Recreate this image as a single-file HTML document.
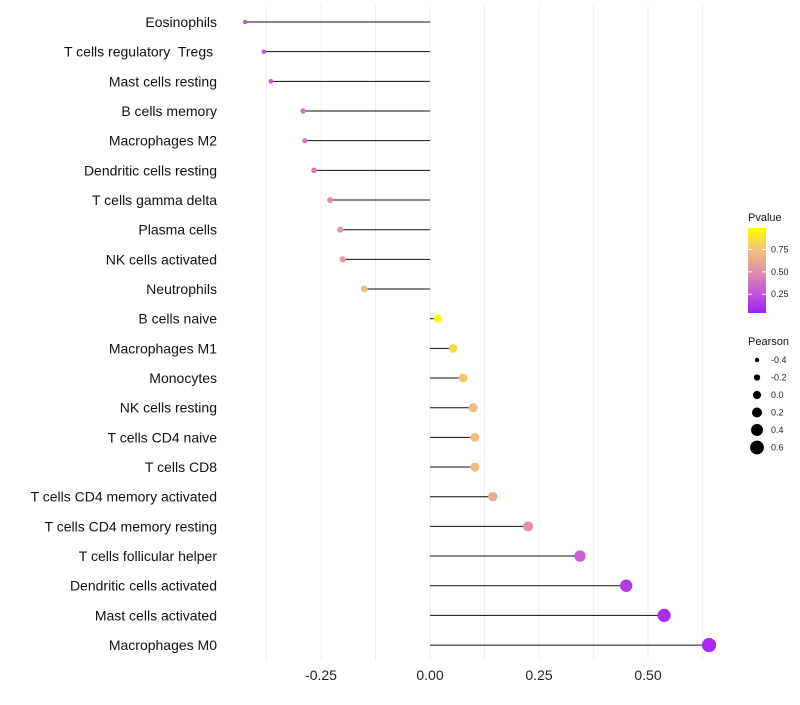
<!DOCTYPE html>
<html><head><meta charset="utf-8"><style>
body{margin:0;background:#fff;font-family:"Liberation Sans",sans-serif}
text{white-space:pre}
</style></head><body>
<svg id="c" width="800" height="700" xmlns="http://www.w3.org/2000/svg">
<defs><linearGradient id="pg" x1="0" y1="1" x2="0" y2="0">
<stop offset="0" stop-color="#A020F0"/><stop offset="0.25" stop-color="#C35BD6"/><stop offset="0.5" stop-color="#E093A8"/><stop offset="0.75" stop-color="#F3C27A"/><stop offset="1" stop-color="#FFFF00"/></linearGradient></defs>
</svg>
<script>
const categories=["Eosinophils","T cells regulatory  Tregs ","Mast cells resting","B cells memory","Macrophages M2","Dendritic cells resting","T cells gamma delta","Plasma cells","NK cells activated","Neutrophils","B cells naive","Macrophages M1","Monocytes","NK cells resting","T cells CD4 naive","T cells CD8","T cells CD4 memory activated","T cells CD4 memory resting","T cells follicular helper","Dendritic cells activated","Mast cells activated","Macrophages M0"];
const pearson=[-0.424,-0.381,-0.365,-0.291,-0.287,-0.266,-0.229,-0.206,-0.2,-0.151,0.018,0.053,0.076,0.099,0.103,0.103,0.144,0.225,0.344,0.45,0.537,0.64];
const pvalues=[0.2,0.22,0.25,0.37,0.38,0.4,0.48,0.52,0.55,0.7,0.97,0.85,0.78,0.72,0.72,0.72,0.62,0.5,0.27,0.12,0.06,0.04];
const xTicks=[-0.25,0,0.25,0.5];
const xTickLabels=["-0.25","0.00","0.25","0.50"];
const pTicks=[0.25,0.5,0.75];
const sizeLegend=[-0.4,-0.2,0,0.2,0.4,0.6];
const sizeLegendLabels=["-0.4","-0.2","0.0","0.2","0.4","0.6"];
const NS="http://www.w3.org/2000/svg",svg=document.getElementById('c');
const x=v=>430+v*436;
const y=i=>22+i*29.67;
const rad=v=>2.1+(v+0.42)*4.7;
function lerp(a,b,t){return a.map((c,i)=>Math.round(c+(b[i]-c)*t));}
const stops=[[160,32,240],[195,91,214],[224,147,168],[243,194,122],[255,255,0]];
function col(p){p=Math.max(0,Math.min(1,p));const k=Math.min(3,Math.floor(p*4));const c=lerp(stops[k],stops[k+1],p*4-k);return `rgb(${c})`;}
function el(t,a,txt){const e=document.createElementNS(NS,t);for(const k in a)e.setAttribute(k,a[k]);if(txt!==undefined)e.textContent=txt;svg.appendChild(e);return e;}
for(let g=-0.375;g<=0.65;g+=0.125){const l=el('line',{x1:x(g),x2:x(g),y1:5,y2:660,stroke:'#efefef','stroke-width':1});

}
xTicks.forEach((t,i)=>{const e=el('text',{x:x(t),y:680,'font-size':14,'text-anchor':'middle',fill:'#222'},xTickLabels[i]);

});
categories.forEach((c,i)=>{
const lb=el('text',{x:217,y:y(i)+5,'font-size':14,'text-anchor':'end',fill:'#111'},c);


const ln=el('line',{x1:x(0),x2:x(pearson[i]),y1:y(i),y2:y(i),stroke:'#111','stroke-width':1});


const d=el('circle',{cx:x(pearson[i]),cy:y(i),r:rad(pearson[i]),fill:col(pvalues[i])});


});
let t=el('text',{x:748,y:221,'font-size':11,fill:'#111'},'Pvalue');


const pb=el('rect',{x:748,y:228,width:18,height:85,fill:'url(#pg)'});


const py=p=>313-(p-0.04)/0.95*85;
pTicks.forEach(p=>{el('line',{x1:748,x2:752,y1:py(p),y2:py(p),stroke:'#fff'});el('line',{x1:762,x2:766,y1:py(p),y2:py(p),stroke:'#fff'});
const e=el('text',{x:771,y:py(p)+3,'font-size':9,fill:'#222'},p.toFixed(2));

});
t=el('text',{x:748,y:345,'font-size':11,fill:'#111'},'Pearson');


sizeLegend.forEach((s,i)=>{const cy=360+i*17.5;
const c=el('circle',{cx:757,cy:cy,r:rad(s),fill:'#000'});


const e=el('text',{x:771,y:cy+3,'font-size':9,fill:'#222'},sizeLegendLabels[i]);

});
</script>
</body></html>
